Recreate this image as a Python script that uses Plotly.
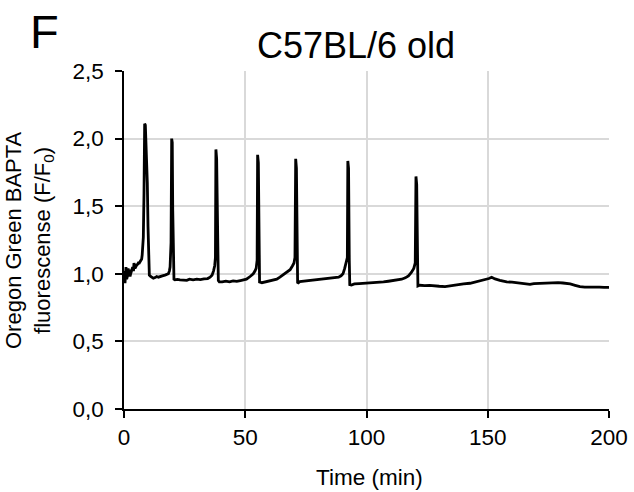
import plotly.graph_objects as go

# Time (min) and Oregon Green BAPTA fluorescence (F/F0)
time_min = [
    0.0, 0.2, 0.41, 0.6, 0.82, 1.1, 1.37, 1.7, 2.0, 2.2, 2.5, 2.75, 3.1, 3.57, 3.9, 4.12, 4.53, 4.9,
    5.22, 5.6, 5.91, 6.3, 6.6, 7.0, 7.29, 7.5, 7.7, 7.97, 8.25, 8.39, 8.52, 8.8, 9.07, 9.35, 9.62,
    9.9, 10.17, 10.45, 10.99, 11.5, 12.1, 12.8, 13.5, 14.2, 14.8, 15.8, 16.9, 17.6, 18.3, 18.7, 19.0,
    19.4, 19.66, 19.9, 20.1, 20.3, 20.6, 21.0, 22.0, 23.1, 24.5, 25.9,
    27.0, 28.5, 30.0, 31.5, 33.0, 34.5, 35.5, 36.3, 36.9, 37.4, 37.7, 37.9, 38.2, 38.6, 38.9, 39.3,
    40.5, 42.0, 43.5, 45.0, 46.5, 48.0, 49.5, 50.5, 52.0, 53.3, 54.0, 54.5, 54.9, 55.1, 55.4, 55.7,
    55.9, 56.9,
    58.5, 60.0, 61.5, 63.0, 64.3, 65.5, 66.8, 68.0, 68.5, 69.5, 70.1, 70.5, 70.8, 71.1, 71.4, 71.6,
    72.5, 74.0, 75.5, 77.0, 78.5, 80.0, 81.5, 83.0, 84.5, 86.0, 87.5, 88.5, 89.5, 90.3, 91.0, 91.6,
    92.1, 92.3, 92.6, 92.9, 93.1, 93.8,
    95.0, 97.0, 99.0, 101.0, 103.0, 105.0, 107.0, 109.0, 111.0, 113.0, 114.5, 116.0, 117.3, 118.5,
    119.5, 120.1, 120.4, 120.7, 121.0, 121.2, 122.0,
    124.0, 126.0, 128.0, 130.0, 132.4, 134.0, 136.0, 138.0, 140.0, 142.7, 145.0, 147.0, 149.0,
    150.5, 151.6, 153.0, 155.0, 157.8, 160.0, 162.0, 164.0, 166.0, 167.4, 169.0, 171.0, 173.0,
    175.0, 177.0, 179.0, 181.0, 182.5, 184.0, 186.0, 188.0, 190.0, 192.0, 194.0, 196.0, 198.0, 200.0,
]
fluorescence = [
    0.95, 1.02, 0.93, 1.01, 1.05, 0.96, 0.98, 1.04, 0.99, 1.03, 0.98, 1.00, 1.03, 1.05, 1.02, 1.08, 1.04, 1.06,
    1.065, 1.07, 1.08, 1.08, 1.09, 1.10, 1.11, 1.14, 1.18, 1.27, 1.60, 1.97, 2.11, 2.10, 1.99, 1.87, 1.67,
    1.35, 1.05, 0.99, 0.98, 0.975, 0.967, 0.972, 0.98, 0.975, 0.98, 0.985, 0.99, 0.995, 1.00, 1.02, 1.05,
    1.23, 2.00, 1.97, 1.47, 0.98, 0.96, 0.955, 0.958, 0.955, 0.956, 0.952,
    0.96, 0.955, 0.96, 0.957, 0.962, 0.965, 0.975, 0.99, 1.02, 1.06, 1.12, 1.92, 1.85, 1.20, 0.95, 0.94,
    0.94, 0.946, 0.941, 0.948, 0.944, 0.95, 0.955, 0.96, 0.98, 1.00, 1.02, 1.04, 1.10, 1.88, 1.82, 1.10,
    0.94, 0.934,
    0.94, 0.945, 0.95, 0.96, 0.975, 0.99, 1.005, 1.02, 1.03, 1.06, 1.08, 1.12, 1.85, 1.78, 1.10, 0.93,
    0.942, 0.945, 0.946, 0.95, 0.953, 0.955, 0.957, 0.96, 0.962, 0.965, 0.97, 0.975, 0.985, 1.00, 1.04, 1.09,
    1.12, 1.835, 1.78, 1.10, 0.92, 0.917,
    0.925, 0.928, 0.93, 0.93, 0.935, 0.937, 0.94, 0.945, 0.95, 0.955, 0.96, 0.97, 0.985, 1.01,
    1.04, 1.08, 1.72, 1.66, 1.00, 0.91, 0.915,
    0.912, 0.915, 0.91, 0.908, 0.905, 0.91, 0.915, 0.918, 0.925, 0.93, 0.94, 0.948, 0.955,
    0.965, 0.974, 0.962, 0.952, 0.94, 0.938, 0.935, 0.928, 0.925, 0.922, 0.928, 0.93, 0.934,
    0.936, 0.937, 0.935, 0.932, 0.93, 0.925, 0.915, 0.905, 0.902, 0.903, 0.9, 0.902, 0.899, 0.9,
]

x_tick_vals = [0, 50, 100, 150, 200]
x_tick_text = ["0", "50", "100", "150", "200"]
y_tick_vals = [0.0, 0.5, 1.0, 1.5, 2.0, 2.5]
y_tick_text = ["0,0", "0,5", "1,0", "1,5", "2,0", "2,5"]

title_text = "C57BL/6 old"
panel_label = "F"
x_title = "Time (min)"
y_title = "Oregon Green BAPTA<br>fluorescense (F/F<sub>0</sub>)"

FONT = "Liberation Sans, Arial, sans-serif"
W, H = 634, 492
ML, MR, MT, MB = 124, 25, 71, 83
PW, PH = W - ML - MR, H - MT - MB


def px_to_paper(px, py):
    return (px - ML) / PW, 1 + (MT - py) / PH


fig = go.Figure()
fig.add_trace(go.Scatter(
    x=time_min, y=fluorescence, mode="lines",
    line=dict(color="black", width=2.8), showlegend=False, hoverinfo="skip",
))

tx, ty = px_to_paper(356, 46)
fx, fy = px_to_paper(44, 31)
xtx, xty = px_to_paper(369, 477)
ytx, yty = px_to_paper(29, 240)

fig.update_layout(
    width=W, height=H,
    margin=dict(l=ML, r=MR, t=MT, b=MB, autoexpand=False),
    paper_bgcolor="white", plot_bgcolor="white",
    font=dict(family=FONT, size=22, color="black"),
    xaxis=dict(
        range=[0, 200], tickvals=x_tick_vals, ticktext=x_tick_text,
        showgrid=True, gridcolor="#d9d9d9", gridwidth=2,
        showline=True, linecolor="black", linewidth=1.5,
        ticks="outside", ticklen=7, tickwidth=1.5, tickcolor="black",
        tickfont=dict(size=22.5), zeroline=False, automargin=False,
    ),
    yaxis=dict(
        range=[0, 2.5], tickvals=y_tick_vals, ticktext=y_tick_text,
        showgrid=True, gridcolor="#d9d9d9", gridwidth=2,
        showline=True, linecolor="black", linewidth=1.5,
        ticks="outside", ticklen=7, tickwidth=1.5, tickcolor="black",
        tickfont=dict(size=22.5), zeroline=False, automargin=False,
        ticklabelstandoff=7,
    ),
    annotations=[
        dict(text=title_text, x=tx, y=ty, xref="paper", yref="paper",
             xanchor="center", yanchor="middle", showarrow=False,
             font=dict(size=36)),
        dict(text=panel_label, x=fx, y=fy, xref="paper", yref="paper",
             xanchor="center", yanchor="middle", showarrow=False,
             font=dict(size=47)),
        dict(text=x_title, x=xtx, y=xty, xref="paper", yref="paper",
             xanchor="center", yanchor="middle", showarrow=False,
             font=dict(size=22.5)),
        dict(text=y_title, x=ytx, y=yty, xref="paper", yref="paper",
             xanchor="center", yanchor="middle", showarrow=False,
             textangle=-90, font=dict(size=22)),
    ],
)

fig.write_html(
    "out.html",
    config={"displayModeBar": False},
    post_script="document.body.style.margin='0px';document.body.style.overflow='hidden';",
)
